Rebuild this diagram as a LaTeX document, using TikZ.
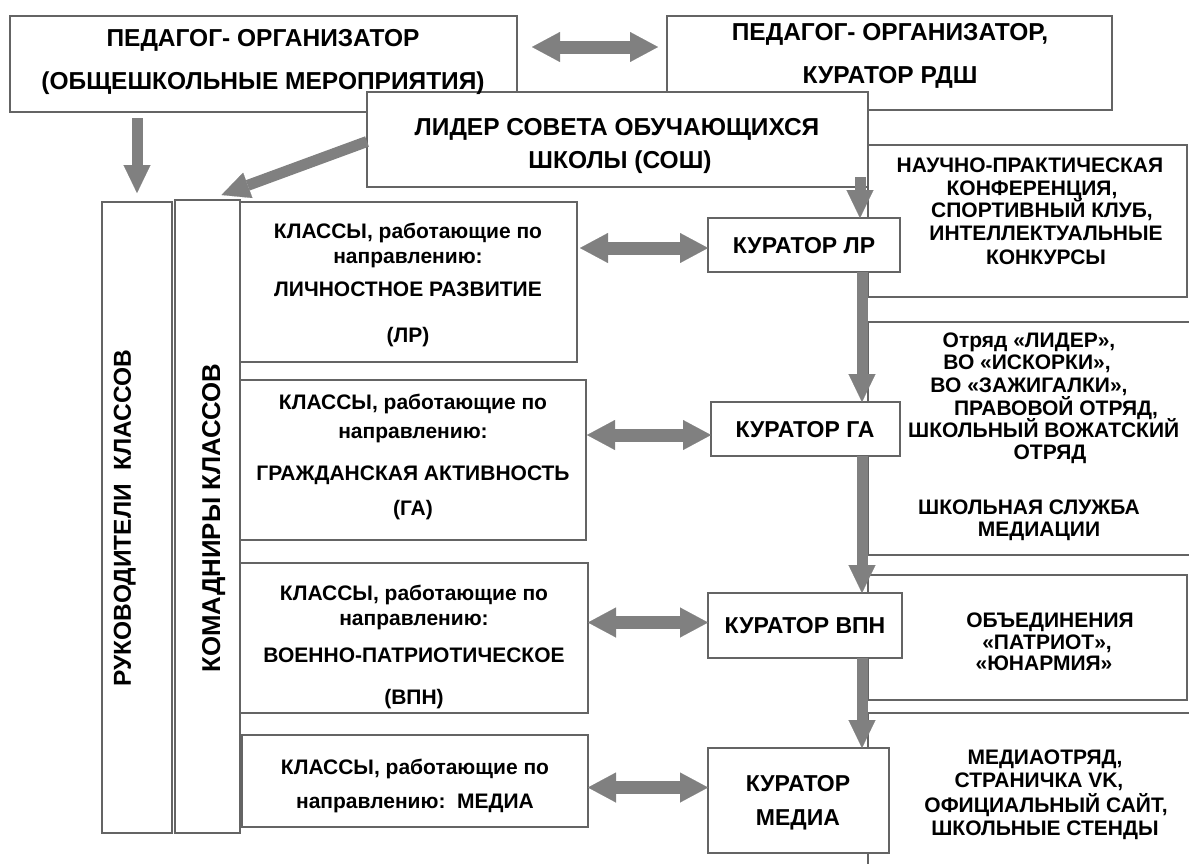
\documentclass[tikz,border=0pt]{standalone}
\usepackage{fontspec}
\setmainfont{Liberation Sans}
\usetikzlibrary{arrows.meta,calc}
\definecolor{bord}{RGB}{100,100,100}
\definecolor{arr}{RGB}{128,128,128}
\newcommand\boxat[6][]{%
  \pgfmathsetmacro\bw{#5-#3}\pgfmathsetmacro\bh{#6-#4}%
  \node[bx,#1,minimum width=\bw pt,minimum height=\bh pt] (#2) at ({(#3+#5)/2},{(#4+#6)/2}) {};}
\newcommand\tx[5]{\node[#4] (#1) at (#2,#3) {#5};}
\begin{document}
\begin{tikzpicture}[x=1pt,y=-1pt,
  bx/.style={draw=bord,line width=2.6pt,fill=white,inner sep=0pt,outer sep=0pt},
  t25/.style={font={\fontsize{24.5}{24.5}\selectfont\bfseries},text height=17.5pt,text depth=0pt,inner sep=0pt},
  t26/.style={font={\fontsize{25.8}{25.8}\selectfont\bfseries},text height=18.4pt,text depth=0pt,inner sep=0pt},
  t23/.style={font={\fontsize{23}{23}\selectfont\bfseries},text height=16.5pt,text depth=0pt,inner sep=0pt},
  t21/.style={font={\fontsize{21}{21}\selectfont\bfseries},text height=15pt,text depth=0pt,inner sep=0pt},
  fat/.style={draw=arr,line width=11pt,-{Triangle[length=28pt,width=27pt,line width=0.1pt]}},
  dbl/.style={draw=arr,line width=13pt,{Triangle[length=28pt,width=30pt,line width=0.1pt]}-{Triangle[length=28pt,width=30pt,line width=0.1pt]}}]
\useasboundingbox (0,0) rectangle (1189,863);
\clip (0,0) rectangle (1189,863);
\fill[white] (0,0) rectangle (1189,863);
% top boxes
\boxat{pa}{10}{16}{517}{112}
\boxat{pb}{667}{16}{1112}{110}
\boxat{sosh}{367}{92}{868}{187}
% right open boxes
\boxat[fill=none]{rb1}{868}{145}{1187}{297}
\boxat[fill=none]{rb2}{868}{322}{1215}{555}
\boxat[fill=none]{rb3}{868}{575}{1187}{700}
\boxat[fill=none]{rb4}{868}{713}{1215}{905}
% columns and class boxes
\boxat{col1}{102}{202}{172}{833}
\boxat{col2}{175}{200}{240}{833}
\boxat{cl1}{240}{202}{577}{362}
\boxat{cl2}{240}{380}{586}{540}
\boxat{cl3}{240}{563}{588}{713}
\boxat{cl4}{242}{735}{588}{827}
% curators
\boxat{kLR}{708}{218}{900}{272}
\boxat{kGA}{711}{402}{900}{456}
\boxat{kVPN}{708}{593}{902}{658}
\boxat{kMED}{708}{748}{889}{853}
% arrows
\coordinate (ax) at (862,0);
\coordinate (ax0) at (860,0);
\draw[fat] ($(pa.south -| col1.north)+(0,6)$) -- ($(col1.north)+(0,-9)$);
\draw[fat] ($(sosh.west)+(0,2)$) -- ($(col2.north)+(14,-5)$);
\draw[dbl] ($(pa.east)+(15,-17)$) -- ($(pb.west)+(-9,-16)$);
\draw[fat] ($(sosh.south -| ax0)+(0,-10)$) -- (kLR.north -| ax0);
\draw[fat] (kLR.south -| ax) -- (kGA.north -| ax);
\draw[fat] (kGA.south -| ax) -- (kVPN.north -| ax);
\draw[fat] (kVPN.south -| ax) -- (kMED.north -| ax);
\draw[dbl] ($(cl1.east |- kLR.west)+(3,3)$) -- ($(kLR.west)+(0,3)$);
\draw[dbl] ($(cl2.east |- kGA.west)+(1,6)$) -- ($(kGA.west)+(0,6)$);
\draw[dbl] ($(cl3.east |- kVPN.west)+(0,-3)$) -- ($(kVPN.west)+(0,-3)$);
\draw[dbl] ($(cl4.east |- kMED.west)+(0,-13)$) -- ($(kMED.west)+(0,-13)$);
% texts
\tx{ta1}{263}{38}{t25}{ПЕДАГОГ- ОРГАНИЗАТОР}
\tx{ta2}{263}{81}{t25}{(ОБЩЕШКОЛЬНЫЕ МЕРОПРИЯТИЯ)}
\tx{tb1}{890}{32}{t25}{ПЕДАГОГ- ОРГАНИЗАТОР,}
\tx{tb2}{890}{75}{t25}{КУРАТОР РДШ}
\tx{tc1}{617}{127}{t25}{ЛИДЕР СОВЕТА ОБУЧАЮЩИХСЯ}
\tx{tc2}{620}{160}{t25}{ШКОЛЫ (СОШ)}
\node[t25,rotate=90] (tr1) at (122,518) {РУКОВОДИТЕЛИ\ \ КЛАССОВ};
\node[t26,rotate=90] (tr2) at (211,518) {КОМАДНИРЫ КЛАССОВ};
\tx{c11}{408}{231}{t21}{КЛАССЫ, работающие по}
\tx{c12}{408}{256}{t21}{направлению:}
\tx{c13}{408}{289}{t21}{ЛИЧНОСТНОЕ РАЗВИТИЕ}
\tx{c14}{408}{335}{t21}{(ЛР)}
\tx{c21}{413}{402}{t21}{КЛАССЫ, работающие по}
\tx{c22}{413}{431}{t21}{направлению:}
\tx{c23}{413}{473}{t21}{ГРАЖДАНСКАЯ АКТИВНОСТЬ}
\tx{c24}{413}{508}{t21}{(ГА)}
\tx{c31}{414}{593}{t21}{КЛАССЫ, работающие по}
\tx{c32}{414}{618}{t21}{направлению:}
\tx{c33}{414}{655}{t21}{ВОЕННО-ПАТРИОТИЧЕСКОЕ}
\tx{c34}{414}{697}{t21}{(ВПН)}
\tx{c41}{415}{767}{t21}{КЛАССЫ, работающие по}
\tx{c42}{415}{801}{t21}{направлению:\ \ МЕДИА}
\tx{k1}{804}{245}{t23}{КУРАТОР ЛР}
\tx{k2}{805}{429}{t23}{КУРАТОР ГА}
\tx{k3}{805}{625}{t23}{КУРАТОР ВПН}
\tx{k4}{798}{783}{t23}{КУРАТОР}
\tx{k5}{798}{817}{t23}{МЕДИА}
\tx{r11}{1030}{165}{t21}{НАУЧНО-ПРАКТИЧЕСКАЯ}
\tx{r12}{1032}{188}{t21}{КОНФЕРЕНЦИЯ,}
\tx{r13}{1042}{210}{t21}{СПОРТИВНЫЙ КЛУБ,}
\tx{r14}{1046}{233}{t21}{ИНТЕЛЛЕКТУАЛЬНЫЕ}
\tx{r15}{1046}{257}{t21}{КОНКУРСЫ}
\tx{r21}{1029}{340}{t21}{Отряд «ЛИДЕР»,}
\tx{r22}{1027}{362}{t21}{ВО «ИСКОРКИ»,}
\tx{r23}{1029}{385}{t21}{ВО «ЗАЖИГАЛКИ»,}
\tx{r24}{1056}{408}{t21}{ПРАВОВОЙ ОТРЯД,}
\node[t21,anchor=west] (r25) at (908,430) {ШКОЛЬНЫЙ ВОЖАТСКИЙ};
\tx{r26}{1050}{452}{t21}{ОТРЯД}
\tx{r27}{1029}{507}{t21}{ШКОЛЬНАЯ СЛУЖБА}
\tx{r28}{1039}{529}{t21}{МЕДИАЦИИ}
\tx{r31}{1050}{620}{t21}{ОБЪЕДИНЕНИЯ}
\tx{r32}{1047}{642}{t21}{«ПАТРИОТ»,}
\tx{r33}{1044}{663}{t21}{«ЮНАРМИЯ»}
\tx{r41}{1045}{757}{t21}{МЕДИАОТРЯД,}
\tx{r42}{1039}{780}{t21}{СТРАНИЧКА VK,}
\tx{r43}{1046}{805}{t21}{ОФИЦИАЛЬНЫЙ САЙТ,}
\tx{r44}{1045}{828}{t21}{ШКОЛЬНЫЕ СТЕНДЫ}
\end{tikzpicture}
\end{document}
